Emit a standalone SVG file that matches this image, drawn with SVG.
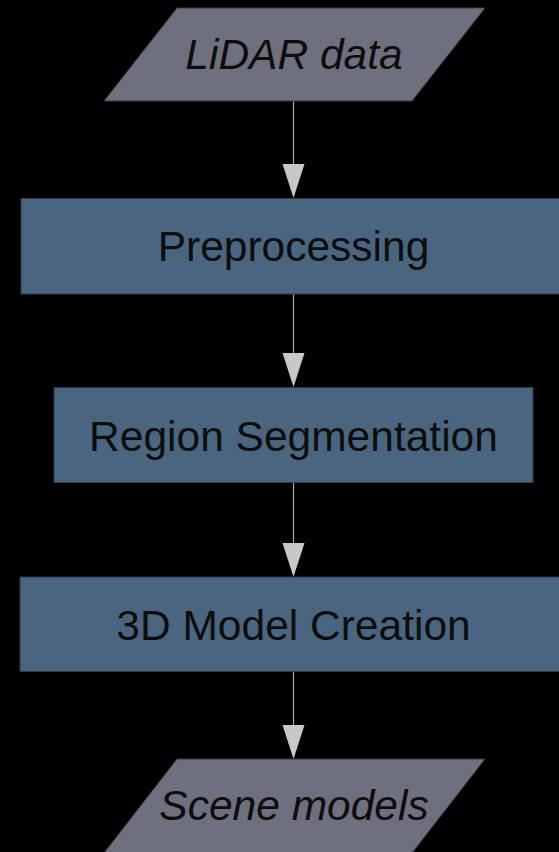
<svg xmlns="http://www.w3.org/2000/svg" width="559" height="852" viewBox="0 0 559 852">
<defs>
<style>
.io{fill:#6f707d;stroke:#3a3a44;stroke-width:1}
.proc{fill:#4a6580;stroke:#2c3c4c;stroke-width:1}
.lbl{font-family:"Liberation Sans",Arial,sans-serif;font-size:42.5px;fill:#0d0d0d;text-anchor:middle}
.it{font-style:italic}
.edge{stroke:#a8a8a8;stroke-width:1.2;fill:none}
.head{fill:#c8c8c8}
</style>
</defs>
<rect x="0" y="0" width="559" height="852" fill="#000"/>
<g id="connectors">
<line class="edge" x1="293.5" y1="101" x2="293.5" y2="165"/>
<polygon class="head" points="282.5,164 304.5,164 293.5,198"/>
<line class="edge" x1="293.5" y1="294" x2="293.5" y2="354"/>
<polygon class="head" points="282.5,353 304.5,353 293.5,387"/>
<line class="edge" x1="293.5" y1="482" x2="293.5" y2="544"/>
<polygon class="head" points="282.5,543 304.5,543 293.5,577"/>
<line class="edge" x1="293.5" y1="671" x2="293.5" y2="726"/>
<polygon class="head" points="282.5,725 304.5,725 293.5,759"/>
</g>
<g id="lidar">
<polygon class="io" points="177,8 485,8 412,101 104,101"/>
<text class="lbl it" x="294" y="69">LiDAR data</text>
</g>
<g id="preprocessing">
<rect class="proc" x="21" y="198.5" width="545" height="95.5"/>
<text class="lbl" x="293.5" y="261">Preprocessing</text>
</g>
<g id="segmentation">
<rect class="proc" x="54" y="387.5" width="479" height="95"/>
<text class="lbl" x="293.5" y="451">Region Segmentation</text>
</g>
<g id="modelcreation">
<rect class="proc" x="20" y="577" width="547" height="94.5"/>
<text class="lbl" x="293.5" y="640">3D Model Creation</text>
</g>
<g id="scenemodels">
<polygon class="io" points="177,759 485,759 412,853 104,853"/>
<text class="lbl it" x="294" y="820">Scene models</text>
</g>
</svg>
